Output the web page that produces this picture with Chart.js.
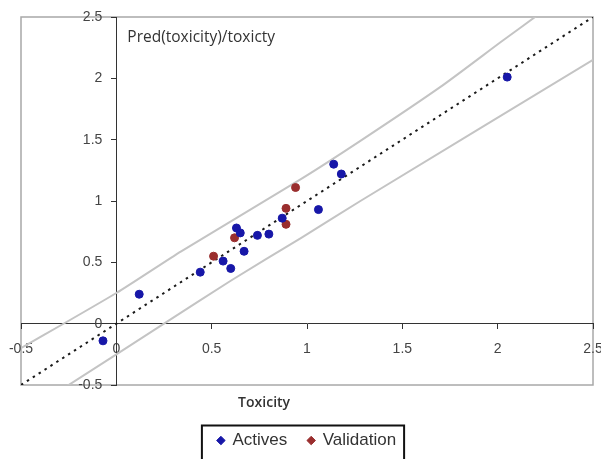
<!DOCTYPE html>
<html>
<head>
<meta charset="utf-8">
<script src="https://cdn.jsdelivr.net/npm/chart.js@4.4.0/dist/chart.umd.min.js"></script>
<style>
html,body{margin:0;padding:0;background:#fff;overflow:hidden}
#wrap{width:601px;height:459px;position:relative}
</style>
</head>
<body>
<div id="wrap"><canvas id="c" width="601" height="459"></canvas></div>
<script>
// ---- data ----
const tickValues = [-0.5, 0, 0.5, 1, 1.5, 2, 2.5];
const tickLabels = ['-0.5', '0', '0.5', '1', '1.5', '2', '2.5'];
const seriesNames = ['Actives', 'Validation'];
const chartTitle = 'Pred(toxicity)/toxicty';
const xTitle = 'Toxicity';

const activesX = [0.44, 0.56, 0.60, 0.67, 0.63, 0.65, 0.74, 0.80, 0.87, 1.14, 1.18, 1.06, 0.12, -0.07, 2.05];
const activesY = [0.42, 0.51, 0.45, 0.59, 0.78, 0.74, 0.72, 0.73, 0.86, 1.30, 1.22, 0.93, 0.24, -0.14, 2.01];

const validationX = [0.51, 0.62, 0.89, 0.89, 0.94];
const validationY = [0.55, 0.70, 0.94, 0.81, 1.11];

const idealX = [-0.5, 2.5];
const idealY = [-0.5, 2.5];

const upperX = [-0.5, 0, 0.34, 0.97, 1.28, 1.7, 2.02, 2.24];
const upperY = [-0.2, 0.25, 0.59, 1.18, 1.49, 1.93, 2.3, 2.55];

const lowerX = [-0.29, 0.25, 0.6, 0.97, 1.28, 2.5];
const lowerY = [-0.54, 0, 0.35, 0.70, 1.0, 2.15];

function pts(xs, ys) { return xs.map((x, i) => ({x: x, y: ys[i]})); }

// ---- plugins ----
const xTitleBox = {
  id: 'xTitleBox',
  beforeInit(chart) {
    const box = {
      position: 'bottom', weight: 100, fullSize: false,
      options: {z: 0},
      left: 0, top: 0, right: 0, bottom: 0, width: 0, height: 0,
      isHorizontal() { return true; },
      update(maxWidth, maxHeight) { this.width = maxWidth; this.height = 26; },
      draw() {
        const ctx = chart.ctx, a = chart.chartArea;
        ctx.save();
        ctx.font = '600 14px "Open Sans"';
        ctx.fillStyle = '#333';
        ctx.textAlign = 'center';
        ctx.textBaseline = 'middle';
        ctx.fillText(xTitle, a.left + a.width * 0.425, this.top + 18);
        ctx.restore();
      }
    };
    Chart.layouts.addBox(chart, box);
  }
};

const decor = {
  id: 'decor',
  beforeDraw(chart) {
    const {ctx, chartArea: a} = chart;
    // move y tick labels away from the axis line
    const ys = chart.scales.y;
    const items = ys.getLabelItems(a);
    items.forEach(it => { if (!it._shifted) { it.options.translation[0] -= 14; it._shifted = true; } });
    ctx.save();
    ctx.fillStyle = '#fff';
    ctx.fillRect(0, 0, chart.width, chart.height);
    ctx.strokeStyle = '#a8a8a8';
    ctx.lineWidth = 1.5;
    ctx.strokeRect(a.left, a.top, a.width, a.height);
    ctx.restore();
  },
  afterDraw(chart) {
    const {ctx, chartArea: a, legend} = chart;
    ctx.save();
    ctx.font = '15.5px "Open Sans"';
    ctx.fillStyle = '#333';
    ctx.textBaseline = 'middle';
    ctx.textAlign = 'left';
    ctx.fillText(chartTitle, chart.scales.x.getPixelForValue(0) + 11, a.top + 21);
    const hb = legend && legend.legendHitBoxes;
    if (hb && hb.length) {
      const first = hb[0], last = hb[hb.length - 1];
      const l = first.left - 16, r = last.left + last.width + 8;
      const t = first.top + first.height / 2 - 15;
      ctx.strokeStyle = '#111';
      ctx.lineWidth = 2;
      ctx.strokeRect(l, t, r - l, chart.height - t + 10);
    }
    ctx.restore();
  }
};

const tickFont = {family: '"Liberation Sans", Arial, sans-serif', size: 14};
function noPad(s) { s.paddingLeft = 0; s.paddingRight = 0; s.paddingTop = 0; s.paddingBottom = 0; }

new Chart(document.getElementById('c'), {
  type: 'scatter',
  data: {
    datasets: [
      {label: seriesNames[0], data: pts(activesX, activesY), backgroundColor: '#1717a8', borderColor: '#1717a8', pointRadius: 4, pointHoverRadius: 4, pointStyle: 'circle'},
      {label: seriesNames[1], data: pts(validationX, validationY), backgroundColor: '#9a2e2e', borderColor: '#9a2e2e', pointRadius: 4, pointHoverRadius: 4, pointStyle: 'circle'},
      {label: 'ideal', data: pts(idealX, idealY), showLine: true, pointRadius: 0, borderColor: '#1a1a1a', borderWidth: 2, borderDash: [2.5, 4.5], fill: false},
      {label: 'upper', data: pts(upperX, upperY), showLine: true, pointRadius: 0, borderColor: '#c4c4c4', borderWidth: 2, tension: 0.2, fill: false},
      {label: 'lower', data: pts(lowerX, lowerY), showLine: true, pointRadius: 0, borderColor: '#c4c4c4', borderWidth: 2, tension: 0.2, fill: false}
    ]
  },
  options: {
    responsive: false,
    animation: false,
    layout: {padding: {left: 21, right: 8, top: 17, bottom: 0}},
    scales: {
      x: {
        type: 'linear', min: -0.5, max: 2.5,
        position: {y: 0},
        afterBuildTicks: s => { s.ticks = tickValues.map(v => ({value: v})); },
        afterFit: noPad,
        ticks: {callback: v => tickLabels[tickValues.indexOf(v)], font: tickFont, color: '#444', padding: 12, maxRotation: 0, autoSkip: false},
        grid: {drawOnChartArea: false, drawTicks: true, tickLength: 5, color: '#333'},
        border: {display: true, color: '#333', width: 1}
      },
      y: {
        type: 'linear', min: -0.5, max: 2.5,
        position: {x: 0},
        afterBuildTicks: s => { s.ticks = tickValues.map(v => ({value: v})); },
        afterFit: noPad,
        ticks: {callback: v => tickLabels[tickValues.indexOf(v)], font: tickFont, color: '#444', padding: 10, autoSkip: false},
        grid: {drawOnChartArea: false, drawTicks: true, tickLength: 5, color: '#333'},
        border: {display: true, color: '#333', width: 1}
      }
    },
    plugins: {
      legend: {
        position: 'bottom',
        labels: {
          filter: item => item.datasetIndex < 2,
          usePointStyle: true, pointStyle: 'rectRot', boxWidth: 6, boxHeight: 6,
          padding: 21,
          font: {family: '"Liberation Sans", Arial, sans-serif', size: 17},
          color: '#333'
        }
      },
      tooltip: {enabled: false}
    }
  },
  plugins: [xTitleBox, decor]
});
</script>
</body>
</html>
